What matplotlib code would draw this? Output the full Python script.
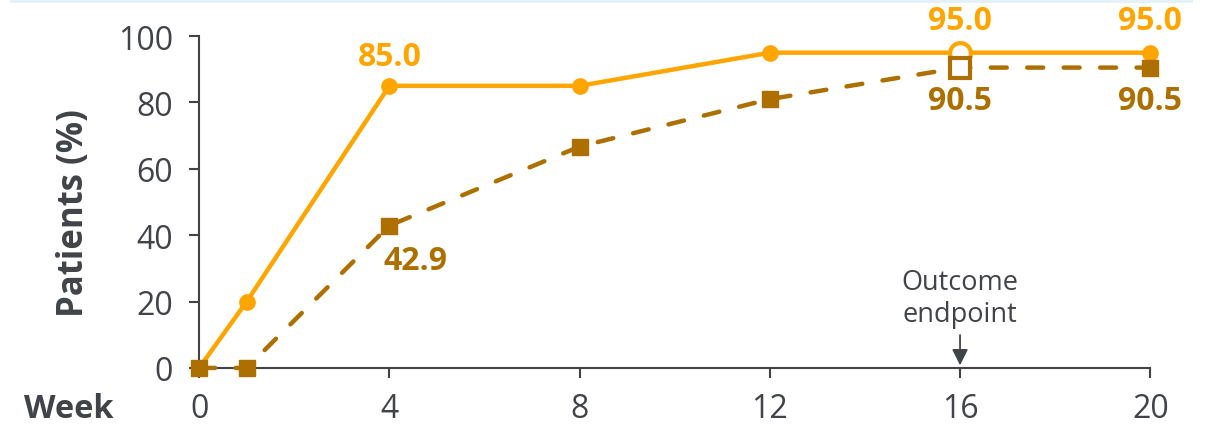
import matplotlib.pyplot as plt
from matplotlib.patches import Rectangle

# weekly response rates
weeks = [0, 1, 4, 8, 12, 16, 20]
primary = [0, 20, 85.0, 85.0, 95.0, 95.0, 95.0]
secondary = [0, 0, 42.9, 66.7, 81.0, 90.5, 90.5]

x_ticks = [0, 4, 8, 12, 16, 20]
y_ticks = [0, 20, 40, 60, 80, 100]

endpoint_week = 16

ORANGE = '#FFA500'
GOLD = '#AD7000'
GREY = '#404348'

plt.rcParams['font.family'] = ['Open Sans', 'DejaVu Sans']

fig = plt.figure(figsize=(12.07, 4.31), dpi=100)
ax = fig.add_axes([0.165, 0.144, 0.788, 0.770])

# thin band along the top edge
fig.add_artist(Rectangle((0.008, 0.99), 0.98, 0.01, transform=fig.transFigure,
                         color='#E4F1F8', lw=0))

end_idx = weeks.index(endpoint_week)
filled = [i for i in range(len(weeks)) if i != end_idx]

ax.plot(weeks, primary, color=ORANGE, lw=3.2, marker='o', ms=11,
        markevery=filled, clip_on=False, zorder=3)
ax.plot(weeks, secondary, color=GOLD, lw=3.2, ls=(0, (3.6, 4.6)),
        dash_capstyle='round', marker='s', ms=11, markevery=filled,
        clip_on=False, zorder=4)

# open markers at the outcome endpoint
ax.plot(weeks[end_idx], primary[end_idx], marker='o', ms=15, mfc='white',
        mec=ORANGE, mew=3, ls='none', zorder=5, clip_on=False)
ax.plot(weeks[end_idx], secondary[end_idx], marker='s', ms=15, mfc='white',
        mec=GOLD, mew=3, ls='none', zorder=6, clip_on=False)

lab = dict(fontsize=23, fontweight='bold', ha='center', va='center',
           textcoords='offset points', annotation_clip=False)
ax.annotate(f'{primary[2]:.1f}', (weeks[2], primary[2]), xytext=(0, 21),
            color=ORANGE, **lab)
ax.annotate(f'{secondary[2]:.1f}', (weeks[2], secondary[2]), xytext=(19, -25),
            color=GOLD, **lab)
for i in (end_idx, len(weeks) - 1):
    ax.annotate(f'{primary[i]:.1f}', (weeks[i], primary[i]), xytext=(0, 23),
                color=ORANGE, **lab)
    ax.annotate(f'{secondary[i]:.1f}', (weeks[i], secondary[i]), xytext=(0, -24),
                color=GOLD, **lab)

ax.annotate('Outcome\nendpoint', xy=(endpoint_week, 0.8), xytext=(endpoint_week, 12),
            ha='center', va='bottom', fontsize=19.5, color=GREY, linespacing=1.2,
            arrowprops=dict(arrowstyle='-|>', color=GREY, lw=1.3,
                            mutation_scale=24, shrinkA=3, shrinkB=0))

ax.set_xlim(0, 20)
ax.set_ylim(0, 100)
ax.set_xticks(x_ticks)
ax.set_yticks(y_ticks)
ax.tick_params(colors=GREY, labelsize=23, length=7, width=1.5, direction='out')
ax.tick_params(axis='x', pad=10)
ax.tick_params(axis='y', pad=12)
for s in ('top', 'right'):
    ax.spines[s].set_visible(False)
for s in ('left', 'bottom'):
    ax.spines[s].set_color(GREY)
    ax.spines[s].set_linewidth(1.5)

ax.set_ylabel('Patients (%)', fontsize=25, fontweight='bold', color=GREY)
ax.yaxis.set_label_coords(-0.113, 0.47)
fig.text(0.057, 0.049, 'Week', fontsize=23.5, fontweight='bold', color=GREY,
         ha='center', va='center')

fig.savefig('out.png', dpi=100)
